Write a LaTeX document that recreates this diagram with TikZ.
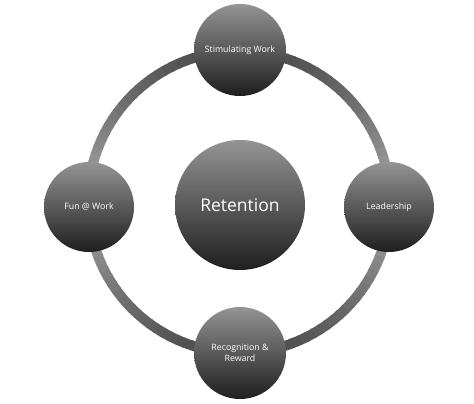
\documentclass[tikz,border=0pt]{standalone}
\usepackage{fontspec}
\setmainfont{Open Sans}
\begin{document}
\begin{tikzpicture}[x=1pt,y=-1pt]
\useasboundingbox[fill=white] (0,0) rectangle (474,404);
\tikzset{
  sphere/.style={circle, draw=none, text=white, align=center, inner sep=0pt,
    top color=black!42, middle color=black!74, bottom color=black!88,
    font=\fontsize{8.8}{10.8}\selectfont},
  ringseg/.style={line width=10pt}
}
\coordinate (ringc) at (239,202);
\foreach \a in {0,3,...,357} {
  \pgfmathsetmacro\s{abs(sin(\a+1.5))}
  \pgfmathsetmacro\k{32+38*\s}
  \draw[ringseg, black!\k] ([shift={(\a:151)}]ringc) arc[start angle=\a, end angle=\a+3.6, radius=151];
}
\node[sphere, minimum size=130pt, font=\fontsize{17.5}{20}\selectfont] (ret) at (240,205) {Retention};
\node[sphere, minimum size=92pt] (stim) at (240,50) {Stimulating Work};
\node[sphere, minimum size=92pt] (rec) at (240,353) {Recognition \&\\Reward};
\node[sphere, minimum size=90pt] (fun) at (89,207) {Fun @ Work};
\node[sphere, minimum size=90pt] (lead) at (389,207) {Leadership};
\end{tikzpicture}
\end{document}
